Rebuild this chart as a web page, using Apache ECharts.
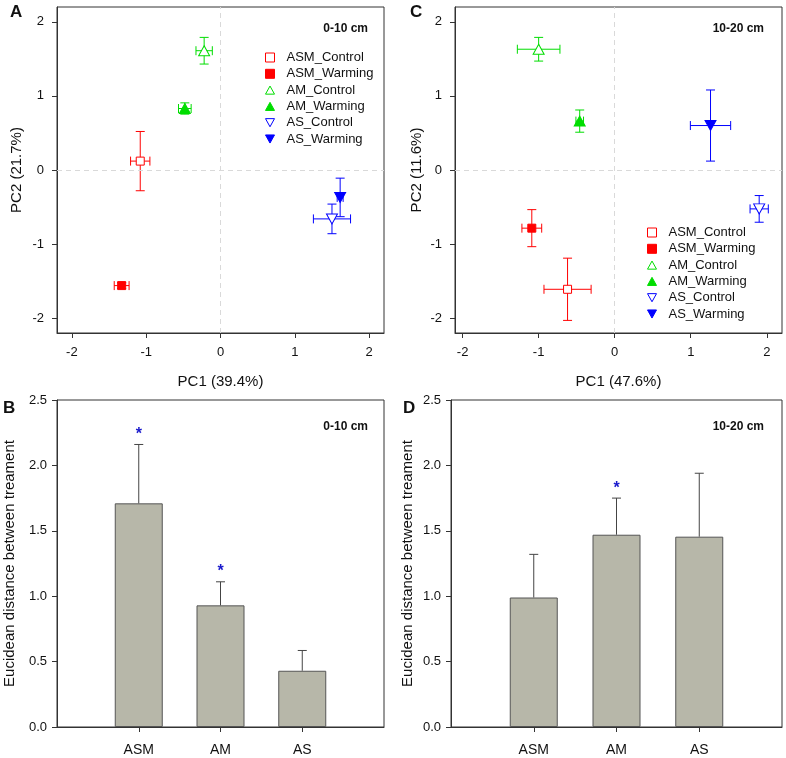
<!DOCTYPE html>
<html>
<head>
<meta charset="utf-8">
<script src="https://cdn.jsdelivr.net/npm/echarts@6/dist/echarts.min.js"></script>
<style>html,body{margin:0;padding:0;background:#fff}#main{width:786px;height:758px}</style>
</head>
<body>
<div id="main"></div>
<script>
var groups = ['ASM_Control', 'ASM_Warming', 'AM_Control', 'AM_Warming', 'AS_Control', 'AS_Warming'];

// A: PCA 0-10 cm
var pc1A = [-1.08, -1.33, -0.22, -0.48, 1.50, 1.61];
var pc2A = [0.12, -1.56, 1.61, 0.83, -0.66, -0.37];
var pc1ErrA = [0.13, 0.10, 0.11, 0.085, 0.25, 0.04];
var pc2ErrA = [0.40, 0.04, 0.18, 0.076, 0.20, 0.26];

// C: PCA 10-20 cm
var pc1C = [-0.62, -1.09, -1.00, -0.46, 1.90, 1.26];
var pc2C = [-1.61, -0.785, 1.63, 0.66, -0.525, 0.60];
var pc1ErrC = [0.31, 0.13, 0.28, 0.05, 0.12, 0.265];
var pc2ErrC = [0.42, 0.25, 0.16, 0.15, 0.18, 0.48];

var pcTicks = [-2, -1, 0, 1, 2];

// B / D: euclidean distance
var sites = ['ASM', 'AM', 'AS'];
var distB = [1.71, 0.93, 0.43];
var distErrB = [0.45, 0.18, 0.155];
var sigB = [1, 1, 0];
var distD = [0.99, 1.47, 1.455];
var distErrD = [0.33, 0.28, 0.485];
var sigD = [0, 1, 0];

// styles
var triDown = 'path://M0,0L20,0L10,18Z';
var triUp = 'path://M10,0L20,18L0,18Z';
var symbols = ['rect', 'rect', triUp, triUp, triDown, triDown];
var hollow = [true, false, true, false, true, false];
var colors = ['#ff0000', '#ff0000', '#00dd00', '#00dd00', '#0000ff', '#0000ff'];
var font = 'Liberation Sans, Arial, sans-serif';

var myChart = echarts.init(document.getElementById('main'));

function pcAxis(gi, name, min, gap) {
    return {
        type: 'value', gridIndex: gi, min: min, max: 2.2,
        name: name, nameLocation: 'middle', nameGap: gap,
        nameTextStyle: {fontSize: 15, color: '#111', fontFamily: font},
        axisLine: {onZero: false, lineStyle: {color: '#333'}},
        axisTick: {customValues: pcTicks, length: 5, lineStyle: {color: '#333'}},
        axisLabel: {customValues: pcTicks, fontSize: 13, color: '#111', fontFamily: font, margin: 13},
        splitLine: {show: false}
    };
}

function errRender(params, api) {
    var x = api.value(0), y = api.value(1), ex = api.value(2), ey = api.value(3);
    var c = colors[api.value(4)];
    var l = api.coord([x - ex, y]), r = api.coord([x + ex, y]);
    var t = api.coord([x, y + ey]), b = api.coord([x, y - ey]);
    var h = 4.5;
    var st = {stroke: c, lineWidth: 1};
    return {
        type: 'group',
        children: [
            {type: 'line', shape: {x1: l[0], y1: l[1], x2: r[0], y2: r[1]}, style: st},
            {type: 'line', shape: {x1: l[0], y1: l[1] - h, x2: l[0], y2: l[1] + h}, style: st},
            {type: 'line', shape: {x1: r[0], y1: r[1] - h, x2: r[0], y2: r[1] + h}, style: st},
            {type: 'line', shape: {x1: t[0], y1: t[1], x2: b[0], y2: b[1]}, style: st},
            {type: 'line', shape: {x1: t[0] - h, y1: t[1], x2: t[0] + h, y2: t[1]}, style: st},
            {type: 'line', shape: {x1: b[0] - h, y1: b[1], x2: b[0] + h, y2: b[1]}, style: st}
        ]
    };
}

function barErrRender(params, api) {
    var x = api.value(0), v = api.value(1), e = api.value(2), sig = api.value(3);
    var top = api.coord([x, v + e]), base = api.coord([x, v]);
    var st = {stroke: '#444', lineWidth: 1};
    var ch = [
        {type: 'line', shape: {x1: base[0], y1: base[1], x2: top[0], y2: top[1]}, style: st},
        {type: 'line', shape: {x1: top[0] - 4.5, y1: top[1], x2: top[0] + 4.5, y2: top[1]}, style: st}
    ];
    if (sig) {
        ch.push({type: 'text', x: top[0], y: top[1] - 2, style: {text: '*', fill: '#1a1acc', font: 'bold 16px ' + font, align: 'center', verticalAlign: 'bottom'}});
    }
    return {type: 'group', children: ch};
}

function pcSeries(gi, xs, ys, xe, ye) {
    var out = [];
    out.push({
        type: 'custom', xAxisIndex: gi, yAxisIndex: gi, z: 2, silent: true,
        renderItem: errRender,
        data: xs.map(function (v, i) { return [v, ys[i], xe[i], ye[i], i]; })
    });
    groups.forEach(function (g, i) {
        var s = {
            name: g, type: 'scatter', xAxisIndex: gi, yAxisIndex: gi, z: 3,
            symbol: symbols[i],
            symbolSize: symbols[i] === 'rect' ? 8 : [11, 10],
            itemStyle: {color: hollow[i] ? '#fff' : colors[i], borderColor: colors[i], borderWidth: 1, opacity: 1},
            data: [[xs[i], ys[i]]]
        };
        if (i === 0) {
            s.markLine = {
                silent: true, symbol: ['none', 'none'], label: {show: false},
                lineStyle: {color: '#d9d9d9', type: [5, 4], width: 1},
                data: [{xAxis: 0}, {yAxis: 0}]
            };
        }
        out.push(s);
    });
    return out;
}

function barSeries(gi, vals, errs, sig) {
    return [{
        type: 'bar', xAxisIndex: gi, yAxisIndex: gi, barWidth: 48,
        itemStyle: {color: '#b7b7a9', borderColor: '#555', borderWidth: 1},
        data: vals.map(function (v, i) { return [i + 1, v]; })
    }, {
        type: 'custom', xAxisIndex: gi, yAxisIndex: gi, z: 3, silent: true,
        renderItem: barErrRender,
        data: vals.map(function (v, i) { return [i + 1, v, errs[i], sig[i]]; })
    }];
}

function barXAxis(gi) {
    return {
        type: 'value', gridIndex: gi, min: 0, max: 4,
        axisLine: {onZero: false, lineStyle: {color: '#333'}},
        axisTick: {customValues: [1, 2, 3], length: 5, lineStyle: {color: '#333'}},
        axisLabel: {customValues: [1, 2, 3], fontSize: 14, color: '#111', fontFamily: font, margin: 16,
            formatter: function (v) { return sites[Math.round(v) - 1]; }},
        splitLine: {show: false}
    };
}

function barYAxis(gi, gap) {
    return {
        type: 'value', gridIndex: gi, min: 0, max: 2.5, interval: 0.5,
        name: 'Eucidean distance between treament', nameLocation: 'middle', nameGap: gap,
        nameTextStyle: {fontSize: 15, color: '#111', fontFamily: font},
        axisLine: {lineStyle: {color: '#333'}},
        axisTick: {length: 5, lineStyle: {color: '#333'}},
        axisLabel: {fontSize: 13, color: '#111', fontFamily: font, margin: 10,
            formatter: function (v) { return v.toFixed(1); }},
        splitLine: {show: false}
    };
}

function label(text, left, top, size, right) {
    var o = {text: text, top: top, padding: 0, textStyle: {fontSize: size, fontWeight: 'bold', color: '#111', fontFamily: font}};
    if (right) o.right = left; else o.left = left;
    return o;
}

var legendData = groups.map(function (g, i) {
    return {
        name: g, icon: symbols[i],
        itemStyle: {color: hollow[i] ? '#fff' : colors[i], borderColor: colors[i], borderWidth: 1}
    };
});

var legendBase = {
    orient: 'vertical', itemWidth: 9, itemHeight: 9, itemGap: 3.3,
    selectedMode: false,
    textStyle: {fontSize: 13, color: '#111', fontFamily: font, padding: [0, 0, 0, 7], lineHeight: 13},
    data: legendData
};

var option = {
    backgroundColor: '#fff',
    animation: false,
    title: [
        label('A', 10, 4, 17),
        label('C', 410, 4, 17),
        label('B', 3, 400, 17),
        label('D', 403, 400, 17),
        label('0-10 cm', 418, 23, 12, true),
        label('10-20 cm', 22, 23, 12, true),
        label('0-10 cm', 418, 421, 12, true),
        label('10-20 cm', 22, 421, 12, true)
    ],
    legend: [
        Object.assign({left: 260, top: 46}, legendBase),
        Object.assign({left: 642, top: 221}, legendBase)
    ],
    grid: [
        {left: 57, top: 7, width: 327, height: 326, show: true, borderColor: '#333', borderWidth: 1},
        {left: 455, top: 7, width: 327, height: 326, show: true, borderColor: '#333', borderWidth: 1},
        {left: 57, top: 400, width: 327, height: 327, show: true, borderColor: '#333', borderWidth: 1},
        {left: 451, top: 400, width: 331, height: 327, show: true, borderColor: '#333', borderWidth: 1}
    ],
    xAxis: [
        pcAxis(0, 'PC1 (39.4%)', -2.2, 41),
        pcAxis(1, 'PC1 (47.6%)', -2.1, 41),
        barXAxis(2),
        barXAxis(3)
    ],
    yAxis: [
        pcAxis(0, 'PC2 (21.7%)', -2.2, 33),
        pcAxis(1, 'PC2 (11.6%)', -2.2, 31),
        barYAxis(2, 40),
        barYAxis(3, 36)
    ],
    series: [].concat(
        pcSeries(0, pc1A, pc2A, pc1ErrA, pc2ErrA),
        pcSeries(1, pc1C, pc2C, pc1ErrC, pc2ErrC),
        barSeries(2, distB, distErrB, sigB),
        barSeries(3, distD, distErrD, sigD)
    )
};

myChart.setOption(option);
</script>
</body>
</html>
